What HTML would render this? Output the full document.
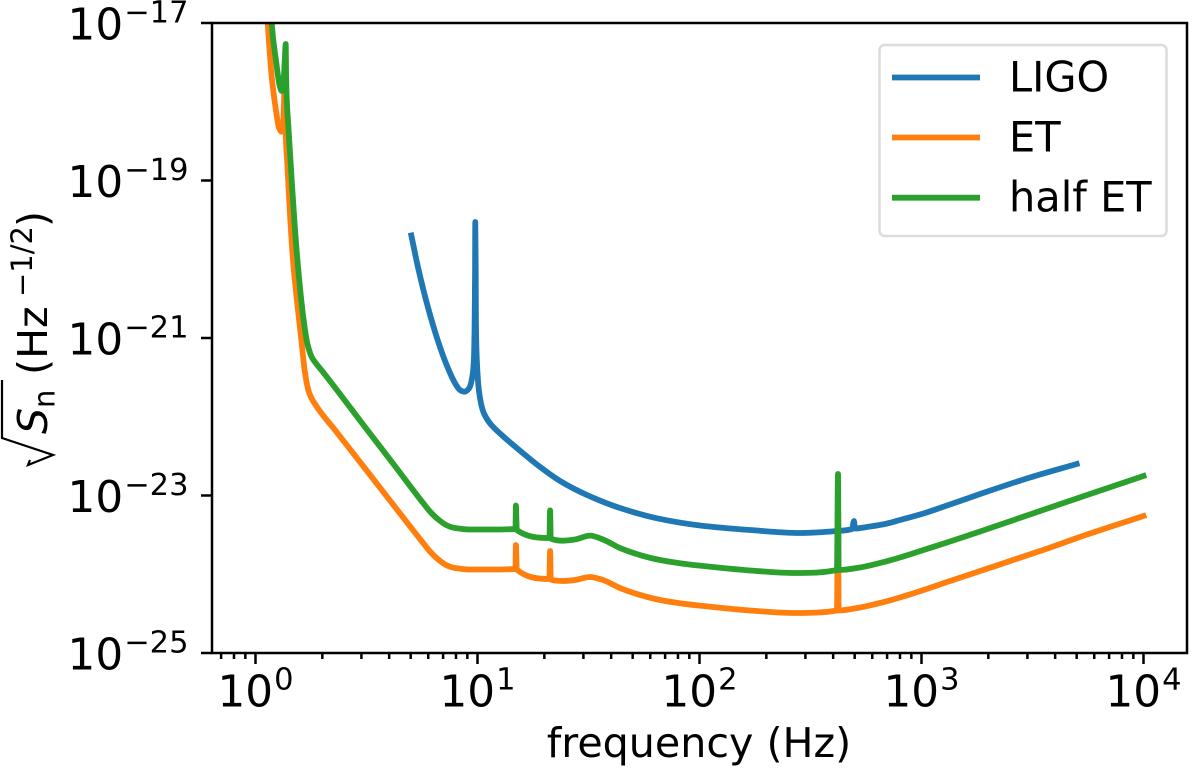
<!DOCTYPE html>
<html>
<head>
<meta charset="utf-8">
<title>Detector sensitivity curves</title>
<style>
html,body{margin:0;padding:0;background:#fff;width:1200px;height:769px;overflow:hidden}
svg{display:block}
text{font-family:"DejaVu Sans","Liberation Sans",sans-serif;fill:#000}
</style>
</head>
<body>
<svg id="chart" xmlns="http://www.w3.org/2000/svg" width="1200" height="769" viewBox="0 0 1200 769">
  <defs><clipPath id="plot-clip"><rect x="212" y="23" width="975" height="630"/></clipPath></defs>
  <g id="series" clip-path="url(#plot-clip)"></g>
  <g id="ticks"></g>
  <rect x="212" y="23" width="975" height="630" fill="none" stroke="#000" stroke-width="2.5"/>
  <text x="699" y="757" font-size="41.2" text-anchor="middle">frequency (Hz)</text>
  <g>
    <polyline points="30,460 28,465 53,455 2,438 2,380" fill="none" stroke="#000" stroke-width="2.2"/>
    <text transform="translate(47,434) rotate(-90)" font-size="41.2" font-style="italic">S</text>
    <text transform="translate(54.5,408) rotate(-90)" font-size="29">n</text>
    <text transform="translate(47,375) rotate(-90)" font-size="41.2">(Hz</text>
    <text transform="translate(32,297) rotate(-90)" font-size="29">−1/2</text>
    <text transform="translate(47,227) rotate(-90)" font-size="41.2">)</text>
  </g>
  <g>
    <rect x="879.5" y="45" width="287" height="191" rx="5" fill="#fff" fill-opacity="0.8" stroke="#dcdcdc" stroke-width="2.5"/>
    <line x1="892" y1="77.5" x2="980" y2="77.5" stroke="#1f77b4" stroke-width="5.8"/>
    <text x="1009" y="91.7" font-size="41.5">LIGO</text>
    <line x1="892" y1="137.5" x2="980" y2="137.5" stroke="#ff7f0e" stroke-width="5.8"/>
    <text x="1009" y="151.7" font-size="41.5">ET</text>
    <line x1="892" y1="197.7" x2="980" y2="197.7" stroke="#2ca02c" stroke-width="5.8"/>
    <text x="1009" y="211.7" font-size="41.5">half ET</text>
  </g>
</svg>
<script>
// Values are log10(frequency / Hz) and log10(strain noise / Hz^-1/2)
var xTickExponents = [0, 1, 2, 3, 4];
var yTickExponents = [-17, -19, -21, -23, -25];
var xMinorMultipliers = [2, 3, 4, 5, 6, 7, 8, 9];

var ligoLogFreq = [0.702,0.733,0.778,0.823,0.861,0.899,0.921,0.941,0.962,0.978,0.984,0.987,0.989,0.990,0.992,0.993,0.998,1.007,1.026,1.056,1.109,1.161,1.282,1.372,1.493,1.642,1.822,2.002,2.227,2.453,2.619,2.687,2.696,2.700,2.768,2.836,2.903,3.016,3.115,3.264,3.489,3.699];
var ligoLogAsd = [-19.698,-20.115,-20.623,-21.047,-21.343,-21.575,-21.660,-21.682,-21.639,-21.470,-21.254,-20.835,-20.200,-19.527,-20.200,-20.835,-21.343,-21.682,-21.936,-22.083,-22.232,-22.359,-22.638,-22.816,-22.994,-23.159,-23.298,-23.381,-23.438,-23.476,-23.451,-23.425,-23.324,-23.419,-23.394,-23.362,-23.311,-23.222,-23.127,-22.981,-22.771,-22.600];

var etLogFreq = [0.047,0.055,0.073,0.092,0.106,0.118,0.125,0.131,0.134,0.135,0.136,0.143,0.155,0.170,0.188,0.208,0.223,0.242,0.276,0.358,0.471,0.606,0.755,0.786,0.818,0.863,0.899,0.966,1.056,1.171,1.173,1.177,1.324,1.327,1.330,1.385,1.439,1.507,1.565,1.642,1.732,1.822,1.912,2.002,2.227,2.430,2.619,2.624,2.627,2.723,2.813,2.903,3.016,3.115,3.264,3.534,3.759,4.000];
var etLogAsd = [-16.644,-17,-17.682,-18.105,-18.333,-18.380,-18.270,-17.724,-17.470,-17.978,-18.359,-18.778,-19.413,-20.048,-20.556,-21.063,-21.444,-21.698,-21.872,-22.168,-22.575,-23.065,-23.603,-23.711,-23.800,-23.889,-23.921,-23.940,-23.940,-23.933,-23.629,-23.940,-24.060,-23.705,-24.067,-24.086,-24.073,-24.035,-24.073,-24.175,-24.263,-24.327,-24.368,-24.399,-24.460,-24.492,-24.460,-23.311,-24.460,-24.422,-24.365,-24.295,-24.194,-24.098,-23.959,-23.705,-23.483,-23.260];

var halfEtLogFreq = [0.068,0.073,0.092,0.110,0.118,0.125,0.132,0.136,0.138,0.141,0.149,0.163,0.178,0.197,0.215,0.233,0.253,0.271,0.304,0.493,0.628,0.755,0.786,0.818,0.863,0.899,0.966,1.056,1.171,1.173,1.177,1.324,1.327,1.330,1.385,1.439,1.507,1.565,1.642,1.732,1.822,1.912,2.002,2.227,2.430,2.619,2.624,2.627,2.723,2.813,2.903,3.016,3.115,3.264,3.534,3.759,4.000];
var halfEtLogAsd = [-16.644,-17,-17.470,-17.809,-17.863,-17.787,-17.470,-17.267,-17.682,-17.978,-18.359,-18.994,-19.629,-20.263,-20.733,-21.063,-21.241,-21.317,-21.432,-22.130,-22.625,-23.095,-23.203,-23.292,-23.381,-23.413,-23.432,-23.432,-23.425,-23.127,-23.438,-23.540,-23.190,-23.546,-23.574,-23.559,-23.510,-23.559,-23.667,-23.756,-23.819,-23.860,-23.891,-23.952,-23.984,-23.946,-22.727,-23.946,-23.914,-23.857,-23.787,-23.686,-23.597,-23.457,-23.197,-22.981,-22.752];

var SVGNS = 'http://www.w3.org/2000/svg';

function xScale(logF) { return 255.5 + 222 * logF; }
function yScale(logS) { return 23 + 78.75 * (-17 - logS); }

// Monotone cubic path through the mapped data points (no overshoot at the spikes)
function curvePath(px, py) {
  var n = px.length, slope = [], tan = [], i;
  for (i = 0; i < n - 1; i++) { slope.push((py[i + 1] - py[i]) / (px[i + 1] - px[i])); }
  tan.push(slope[0]);
  for (i = 1; i < n - 1; i++) {
    if (slope[i - 1] * slope[i] <= 0) { tan.push(0); }
    else {
      var h0 = px[i] - px[i - 1], h1 = px[i + 1] - px[i];
      tan.push(3 * (h0 + h1) / ((2 * h1 + h0) / slope[i - 1] + (h1 + 2 * h0) / slope[i]));
    }
  }
  tan.push(slope[n - 2]);
  var d = 'M' + px[0].toFixed(2) + ' ' + py[0].toFixed(2);
  for (i = 0; i < n - 1; i++) {
    var h = (px[i + 1] - px[i]) / 3;
    d += 'C' + (px[i] + h).toFixed(2) + ' ' + (py[i] + h * tan[i]).toFixed(2) + ' ' +
         (px[i + 1] - h).toFixed(2) + ' ' + (py[i + 1] - h * tan[i + 1]).toFixed(2) + ' ' +
         px[i + 1].toFixed(2) + ' ' + py[i + 1].toFixed(2);
  }
  return d;
}

function drawSeries(name, color, xs, ys) {
  var line = document.createElementNS(SVGNS, 'path');
  
  
  line.setAttribute('d', curvePath(xs.map(xScale), ys.map(yScale)));
  line.setAttribute('fill', 'none');
  line.setAttribute('stroke', color);
  line.setAttribute('stroke-width', '5.8');
  line.setAttribute('stroke-linejoin', 'round');
  line.setAttribute('stroke-linecap', 'square');
  document.getElementById('series').appendChild(line);
}

function drawTick(x1, y1, x2, y2) {
  var t = document.createElementNS(SVGNS, 'line');
  
  
  t.setAttribute('x1', x1);
  t.setAttribute('y1', y1);
  t.setAttribute('x2', x2);
  t.setAttribute('y2', y2);
  t.setAttribute('stroke', '#000');
  t.setAttribute('stroke-width', '2.5');
  document.getElementById('ticks').appendChild(t);
}

function drawTickLabel(x, y, anchor, exponent) {
  var label = document.createElementNS(SVGNS, 'text');
  
  
  label.setAttribute('x', x);
  label.setAttribute('y', y);
  label.setAttribute('text-anchor', anchor);
  label.setAttribute('font-size', '43.7');
  var base = document.createElementNS(SVGNS, 'tspan');
  base.textContent = '10';
  var sup = document.createElementNS(SVGNS, 'tspan');
  sup.setAttribute('font-size', '30.5');
  sup.setAttribute('dy', '-17');
  sup.setAttribute('dx', '1');
  sup.textContent = String(exponent).replace('-', '\u2212');
  label.appendChild(base);
  label.appendChild(sup);
  document.getElementById('ticks').appendChild(label);
}

drawSeries('ligo-line', '#1f77b4', ligoLogFreq, ligoLogAsd);
drawSeries('et-line', '#ff7f0e', etLogFreq, etLogAsd);
drawSeries('half-et-line', '#2ca02c', halfEtLogFreq, halfEtLogAsd);

xTickExponents.forEach(function (e) {
  var x = xScale(e);
  drawTick(x, 653, x, 664);
  drawTickLabel(x, 706.7, 'middle', e);
});
for (var d = -1; d <= 4; d++) {
  xMinorMultipliers.forEach(function (m) {
    var x = xScale(d + Math.log10(m));
    if (x > 212 && x < 1187) { drawTick(x, 653, x, 659); }
  });
}
yTickExponents.forEach(function (e) {
  var y = yScale(e);
  drawTick(201, y, 212, y);
  drawTickLabel(188.5, y + 16.3, 'end', e);
});
</script>
</body>
</html>
